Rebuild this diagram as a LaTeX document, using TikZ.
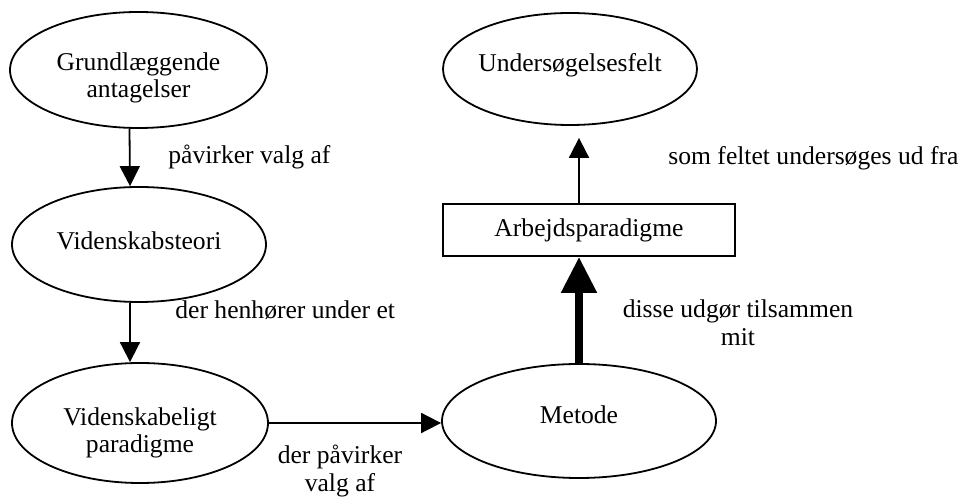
\documentclass[tikz,border=0pt]{standalone}
\usepackage{fontspec}
\setmainfont{Liberation Serif}
\usepackage{tikz}
\usetikzlibrary{arrows.meta, shapes.geometric, positioning, calc}
\tikzstyle{arrow} = [line width=0.9pt, -{Triangle[length=10pt, width=10pt]}]
\tikzstyle{bigarrow} = [line width=4pt, -{Triangle[length=18pt, width=17pt]}]
\tikzstyle{bubble} = [draw, line width=0.9pt, ellipse, inner sep=0pt]
\tikzstyle{frame} = [draw, line width=0.9pt, rectangle, inner sep=0pt]
\tikzstyle{note} = [inner sep=0pt, align=center]

\begin{document}
\begin{tikzpicture}[x=0.5pt, y=-0.5pt, font=\fontsize{12.8}{13.8}\selectfont]
            \useasboundingbox (0,0) rectangle (960,497);
            % ellipser
            \node[bubble, minimum width=128.5pt, minimum height=58pt, label={[note, yshift=-4pt]center:Grundlæggende\\antagelser}] (grund) at (138.5,70) {};
            \node[bubble, minimum width=127pt, minimum height=57.5pt, label={[note, yshift=2pt]center:Videnskabsteori}] (teori) at (139,244.5) {};
            \node[bubble, minimum width=128pt, minimum height=60pt, label={[note, yshift=-5pt]center:Videnskabeligt\\paradigme}] (paradigme) at (140,423) {};
            \node[bubble, minimum width=137pt, minimum height=57pt, label={[note, yshift=3pt]center:Metode}] (metode) at (579,421) {};
            \node[bubble, minimum width=127pt, minimum height=56pt, label={[note, yshift=2pt]center:Undersøgelsesfelt}] (felt) at (570,69) {};
            \node[frame, minimum width=146pt, minimum height=26pt] (arbejde) at (589,230) {Arbejdsparadigme};

            % pile
            \draw[arrow] ($(grund.south)+(-9,0)$) -- ($(teori.north)+(-9,0)$);
            \draw[arrow] ($(teori.south)+(-9,0)$) -- ($(paradigme.north)+(-10,0)$);
            \draw[arrow] (paradigme.east) -- (paradigme.east -| metode.west);
            \draw[bigarrow] (metode.north) -- (arbejde.south -| metode.north);
            \draw[arrow, shorten >=6pt] (arbejde.north -| metode.north) -- (felt.south -| metode.north);

            % tekster
            \node[note, anchor=west] (valg) at (168,157) {påvirker valg af};
            \node[note, anchor=west] (henhoerer) at (175,310) {der henhører under et};
            \node[note] (paavirker) at (340,471) {der påvirker\\valg af};
            \node[note, anchor=west] (feltet) at (668,158) {som feltet undersøges ud fra};
            \node[note] (udgoer) at (738,323) {disse udgør tilsammen\\mit};
        \end{tikzpicture}
\end{document}
